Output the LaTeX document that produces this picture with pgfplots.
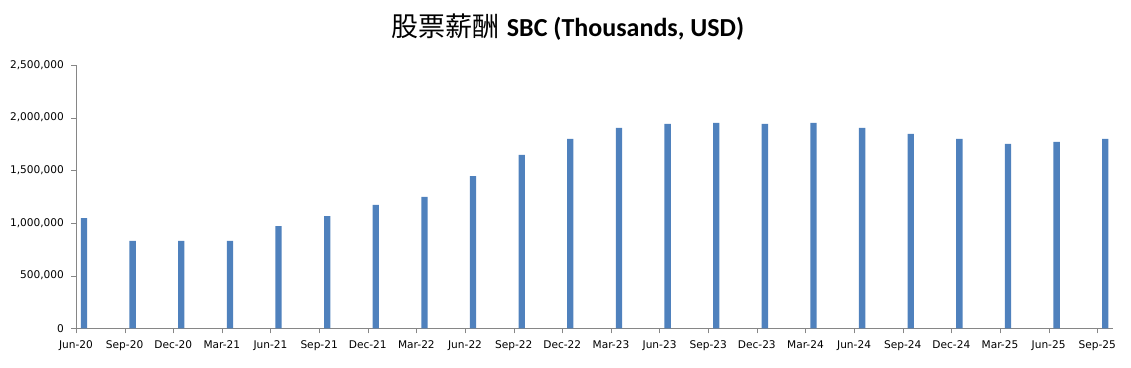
\documentclass[border=0pt]{standalone}
\usepackage{pgfplots}
\pgfplotsset{compat=1.18}
\usepackage{fontspec}
\setmainfont{DejaVu Sans}
\newfontfamily\cjk{Noto Sans CJK SC}
\newfontfamily\carlito{Carlito}
\definecolor{barblue}{HTML}{4F81BD}
\definecolor{axisgray}{HTML}{868686}
\begin{document}
\begin{tikzpicture}
\useasboundingbox (0pt,0pt) rectangle (1131pt,367pt);
\node[anchor=center] at (568pt,340pt) {{\cjk\fontsize{27}{30}\selectfont 股票薪酬}\hspace{7pt}{\carlito\bfseries\fontsize{26}{30}\selectfont SBC (Thousands, USD)}};
\begin{axis}[
  at={(76pt,38.7pt)}, anchor=south west,
  scale only axis, width=1037.3pt, height=263.3pt,
  xmin=0, xmax=21.33, ymin=0, ymax=2500000,
  axis lines=left, axis line style={-,draw=axisgray},
  tick align=outside, major tick length=5pt,
  tick style={draw=axisgray},
  scaled y ticks=false,
  xtick={0,...,21},
  xticklabels={Jun-20,Sep-20,Dec-20,Mar-21,Jun-21,Sep-21,Dec-21,Mar-22,Jun-22,Sep-22,Dec-22,Mar-23,Jun-23,Sep-23,Dec-23,Mar-24,Jun-24,Sep-24,Dec-24,Mar-25,Jun-25,Sep-25},
  ytick={0,500000,1000000,1500000,2000000,2500000},
  yticklabels={0,{500,000},{1,000,000},{1,500,000},{2,000,000},{2,500,000}},
  ticklabel style={font=\fontsize{10.6}{12}\selectfont, text=black},
  xticklabel style={yshift=-3.5pt},
  yticklabel style={xshift=-3.5pt},
  ybar, bar width=0.13, bar shift=0,
]
\addplot[fill=barblue, draw=none] coordinates {
(0.165,1047000) (1.165,829000) (2.165,829000) (3.165,829000) (4.165,971000)
(5.165,1066000) (6.165,1171000) (7.165,1247000) (8.165,1446000) (9.165,1646000)
(10.165,1798000) (11.165,1902000) (12.165,1940000) (13.165,1950000) (14.165,1940000)
(15.165,1950000) (16.165,1902000) (17.165,1845000) (18.165,1798000) (19.165,1750000)
(20.165,1769000) (21.165,1798000)
};
\end{axis}
\end{tikzpicture}
\end{document}
